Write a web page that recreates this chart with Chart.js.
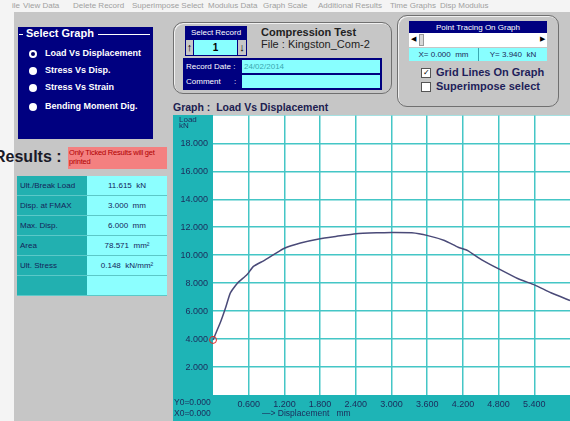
<!DOCTYPE html>
<html>
<head>
<meta charset="utf-8">
<script src="https://cdn.jsdelivr.net/npm/chart.js@4"></script>
<style>
  body { margin: 0; width: 570px; height: 421px; overflow: hidden; background: #f4f4f4; position: relative;
         font-family: 'Liberation Sans', Arial, sans-serif; }
  .abs { position: absolute; }
  .narrow { font-family: 'Liberation Sans Narrow', 'Arial Narrow', 'Liberation Sans', sans-serif; }
  .menu { top: 1px; font-size: 8px; color: #a0a0a0; white-space: nowrap; }
  .win { left: 14px; top: 12px; width: 556px; height: 409px; background: #c6c6c6; }
  .navy { background: #000080; color: #fff; }
  .cyan { background: #88ffff; }
  .radio { width: 8px; height: 8px; border-radius: 50%; background: #fff; left: 29px; }
  .rtxt { left: 45px; color: #fff; font-weight: bold; font-size: 9px; white-space: nowrap; }
  .box { border: 1.5px solid #707070; border-radius: 10px; box-shadow: inset 1px 1px 0 #f0f0f0; }
  .lbl { font-size: 8px; line-height: 13px; white-space: nowrap; }
  .row { left: 17px; width: 150px; height: 19px; border-bottom: 1px solid #5cc8c8; }
  .row .k { position: absolute; left: 0; top: 0; width: 70px; height: 19px; background: #22b0b0; color: #14245a;
            font-size: 8px; line-height: 19px; padding-left: 3px; box-sizing: border-box; }
  .row .v { position: absolute; left: 70px; top: 0; width: 80px; height: 19px; background: #8cffff; color: #14245a;
            font-size: 8px; line-height: 19px; text-align: center; }
  .ctext { color: #1c2a5a; font-size: 8.5px; white-space: nowrap; }
  .chk { width: 8px; height: 8px; background: #fff; border: 1px solid #555; left: 421px; font-size: 8px; line-height: 8px;
         text-align: center; color: #000; }
  .ctl { left: 436px; font-weight: bold; font-size: 11px; color: #1e1e5a; white-space: nowrap; }
</style>
</head>
<body>
<!-- menu bar (faded) -->
<div class="abs menu" style="left:12px">ile</div>
<div class="abs menu" style="left:23px">View Data</div>
<div class="abs menu" style="left:73px">Delete Record</div>
<div class="abs menu" style="left:132px">Superimpose Select</div>
<div class="abs menu" style="left:208px">Modulus Data</div>
<div class="abs menu" style="left:263px">Graph Scale</div>
<div class="abs menu" style="left:318px">Additional Results</div>
<div class="abs menu" style="left:390px">Time Graphs</div>
<div class="abs menu" style="left:440px">Disp Modulus</div>

<div class="abs win"></div>

<!-- Select Graph panel -->
<div class="abs navy" style="left:18px;top:27px;width:135px;height:112px"></div>
<div class="abs" style="left:19px;top:34px;width:4px;height:1px;background:#fff"></div>
<div class="abs" style="left:26px;top:27px;color:#fff;font-weight:bold;font-size:11px">Select Graph</div>
<div class="abs" style="left:98px;top:34px;width:52px;height:1px;background:#fff"></div>
<div class="abs radio" style="top:50px"></div>
<div class="abs" style="left:31px;top:52px;width:4px;height:4px;border-radius:50%;background:#000060"></div>
<div class="abs rtxt" style="top:48px">Load Vs Displacement</div>
<div class="abs radio" style="top:67px"></div>
<div class="abs rtxt" style="top:65px">Stress Vs Disp.</div>
<div class="abs radio" style="top:84px"></div>
<div class="abs rtxt" style="top:82px">Stress Vs Strain</div>
<div class="abs radio" style="top:103px"></div>
<div class="abs rtxt" style="top:101px">Bending Moment Dig.</div>

<!-- record panel -->
<div class="abs box" style="left:173px;top:22px;width:217px;height:70px"></div>
<div class="abs navy lbl narrow" style="left:185px;top:26px;width:62px;height:12px;text-align:center">Select Record</div>
<div class="abs navy" style="left:185px;top:38px;width:62px;height:18px"></div>
<div class="abs" style="left:186px;top:40px;width:7px;height:15px;background:#c6c6c6;font-size:11px;line-height:15px;text-align:center;font-weight:bold">&#8593;</div>
<div class="abs cyan" style="left:194px;top:40px;width:43px;height:15px;font-size:10px;font-weight:bold;line-height:15px;text-align:center">1</div>
<div class="abs" style="left:238px;top:40px;width:8px;height:15px;background:#c6c6c6;font-size:11px;line-height:15px;text-align:center;font-weight:bold">&#8595;</div>
<div class="abs" style="left:261px;top:26px;font-weight:bold;font-size:11px;color:#222">Compression Test</div>
<div class="abs" style="left:261px;top:38px;font-size:11px;color:#222">File : Kingston_Com-2</div>
<div class="abs navy" style="left:183px;top:58px;width:199px;height:32px"></div>
<div class="abs lbl narrow" style="left:186px;top:60px;color:#fff">Record Date :</div>
<div class="abs cyan lbl narrow" style="left:242px;top:60px;width:138px;height:13px;color:#3aa8b0;padding-left:2px;box-sizing:border-box">24/02/2014</div>
<div class="abs lbl narrow" style="left:186px;top:75px;color:#fff">Comment&nbsp;&nbsp;&nbsp;&nbsp;&nbsp;&nbsp;:</div>
<div class="abs cyan" style="left:242px;top:75px;width:138px;height:13px"></div>

<!-- point tracing panel -->
<div class="abs box" style="left:397px;top:15px;width:160px;height:90px"></div>
<div class="abs navy lbl narrow" style="left:409px;top:21px;width:138px;height:12px;text-align:center">Point Tracing On Graph</div>
<div class="abs" style="left:409px;top:33px;width:138px;height:14px;background:#fff"></div>
<div class="abs" style="left:411px;top:35px;font-size:7px;color:#000">&#9664;</div>
<div class="abs" style="left:419px;top:34px;width:5px;height:12px;background:#d8d8d8;border:1px solid #999;box-sizing:border-box"></div>
<div class="abs" style="left:540px;top:35px;font-size:7px;color:#000">&#9654;</div>
<div class="abs cyan" style="left:409px;top:48px;width:138px;height:13px"></div>
<div class="abs" style="left:478px;top:48px;width:1px;height:13px;background:#3aa8b0"></div>
<div class="abs lbl narrow" style="left:409px;top:48px;width:69px;text-align:center;color:#1c2a5a">X= 0.000&nbsp;&nbsp;mm</div>
<div class="abs lbl narrow" style="left:479px;top:48px;width:68px;text-align:center;color:#1c2a5a">Y= 3.940&nbsp;&nbsp;kN</div>
<div class="abs chk" style="top:68px">&#10003;</div>
<div class="abs ctl" style="top:66px">Grid Lines On Graph</div>
<div class="abs chk" style="top:82px"></div>
<div class="abs ctl" style="top:80px">Superimpose select</div>

<!-- results -->
<div class="abs" style="left:-6px;top:148px;font-weight:bold;font-size:16px;color:#1a1a28">Results :</div>
<div class="abs narrow" style="left:68px;top:147px;width:99px;height:22px;background:#f48080;color:#b00000;font-size:7.5px;line-height:9px;padding:1px 1px;box-sizing:border-box;letter-spacing:-0.2px">Only Ticked Results will get printed</div>
<div id="results"></div>

<!-- graph -->
<div class="abs" style="left:173px;top:101px;font-weight:bold;font-size:10.5px;color:#202050">Graph :&nbsp; Load Vs Displacement</div>
<div class="abs" style="left:173px;top:115px;width:397px;height:306px;background:#1eb4b6"></div>
<div class="abs" id="wrap" style="left:173px;top:115px">
  <canvas id="chart" width="397" height="306"></canvas>
</div>
<div class="abs ctext narrow" style="left:179px;top:117px;font-size:8px;line-height:6px">Load<br>kN</div>
<div class="abs ctext narrow" style="left:174px;top:397px">Y0=0.000</div>
<div class="abs ctext narrow" style="left:174px;top:408px">X0=0.000</div>
<div class="abs ctext narrow" style="left:262px;top:408px">&#8212;&gt; Displacement&nbsp;&nbsp;&nbsp;mm</div>

<script>
// results table
const resultNames = ['Ult./Break Load', 'Disp. at FMAX', 'Max. Disp.', 'Area', 'Ult. Stress', ''];
const resultValues = ['11.615  kN', '3.000  mm', '6.000  mm', '78.571  mm\u00b2', '0.148  kN/mm\u00b2', ''];

// load / displacement curve
const displacement = [0, 0.13, 0.21, 0.29, 0.41, 0.57, 0.68, 0.85, 1.02, 1.20, 1.47, 1.80, 2.08, 2.40, 2.75,
    3.00, 3.34, 3.61, 3.89, 4.12, 4.28, 4.51, 4.82, 5.12, 5.41, 5.68, 6.00];
const load = [3.94, 5.26, 6.22, 7.29, 8.00, 8.60, 9.20, 9.60, 10.04, 10.50, 10.87, 11.18, 11.35, 11.54, 11.60,
    11.615, 11.60, 11.40, 11.05, 10.57, 10.33, 9.69, 8.98, 8.33, 7.86, 7.31, 6.76];

const xMin = 0, xMax = 6, xStep = 0.6;
const yMin = 0, yMax = 20, yStep = 2;

const table = document.getElementById('results');
resultNames.forEach((name, i) => {
    const row = document.createElement('div');
    row.className = 'abs row narrow';
    row.style.top = (176 + i * 20) + 'px';
    row.innerHTML = '<div class="k"></div><div class="v"></div>';
    row.querySelector('.k').textContent = name;
    row.querySelector('.v').textContent = resultValues[i].replace(/  /g, '\u00a0\u00a0');
    table.appendChild(row);
});

// white plot area (teal frame is the div behind the canvas)
const background = {
    id: 'background',
    beforeDraw(chart) {
        const ctx = chart.ctx;
        const a = chart.chartArea;
        ctx.save();
        ctx.fillStyle = '#ffffff';
        ctx.fillRect(a.left, a.top, a.right - a.left, a.bottom - a.top);
        ctx.restore();
    }
};

const narrowFont = "'Liberation Sans Narrow', 'Arial Narrow', 'Liberation Sans', sans-serif";
const gridColor = (min, max) => (c) => {
    const v = c.tick ? c.tick.value : null;
    return (v === null || Math.abs(v - min) < 1e-6 || Math.abs(v - max) < 1e-6) ? 'rgba(0,0,0,0)' : '#44c6c6';
};

function makeChart(canvas) {
    return new Chart(canvas, {
        type: 'line',
        data: {
            datasets: [{
                data: displacement.map((x, i) => ({x: x, y: load[i]})),
                borderColor: '#4a4a78',
                borderWidth: 1.5,
                tension: 0.15,
                clip: false,
                pointRadius: displacement.map((x, i) => i === 0 ? 3.5 : 0),
                pointBorderColor: '#e02828',
                pointBackgroundColor: 'rgba(0,0,0,0)',
                pointBorderWidth: 1
            }]
        },
        options: {
            responsive: false,
            animation: false,
            layout: {padding: 0},
            plugins: {legend: {display: false}, tooltip: {enabled: false}},
            scales: {
                x: {
                    type: 'linear',
                    min: xMin, max: xMax,
                    afterFit: (s) => { s.height = 27; },
                    border: {display: false},
                    grid: {color: gridColor(xMin, xMax), lineWidth: 1.5, drawTicks: false},
                    ticks: {
                        stepSize: xStep, padding: 4, maxRotation: 0, autoSkip: false,
                        color: '#1c2a5a', font: {family: narrowFont, size: 9},
                        callback: (v) => (v > xMin + 1e-6 && v < xMax - 1e-6) ? Number(v).toFixed(3) : ''
                    }
                },
                y: {
                    min: yMin, max: yMax,
                    afterFit: (s) => { s.width = 40; },
                    border: {display: false},
                    grid: {color: gridColor(yMin, yMax), lineWidth: 1.5, drawTicks: false},
                    ticks: {
                        stepSize: yStep, padding: 5, autoSkip: false,
                        color: '#1c2a5a', font: {family: narrowFont, size: 9},
                        callback: (v) => (v > yMin && v < yMax) ? Number(v).toFixed(3) : ''
                    }
                }
            }
        },
        plugins: [background]
    });
}

// plot box wanted on the page: left 213, top 115, right 570, bottom 395
const plotBox = {left: 213, top: 115, right: 570, bottom: 395};
const canvasEl = document.getElementById('chart');
let chart = makeChart(canvasEl);
const area = chart.chartArea;
const padR = chart.width - area.right, padB = chart.height - area.bottom;
const canvasLeft = plotBox.left - area.left, canvasTop = plotBox.top - area.top;
chart.destroy();
const wrap = document.getElementById('wrap');
wrap.style.left = canvasLeft + 'px';
wrap.style.top = canvasTop + 'px';
canvasEl.width = Math.round(plotBox.right - canvasLeft + padR);
canvasEl.height = Math.round(plotBox.bottom - canvasTop + padB);
canvasEl.style.width = canvasEl.width + 'px';
canvasEl.style.height = canvasEl.height + 'px';
chart = makeChart(canvasEl);
</script>
</body>
</html>
